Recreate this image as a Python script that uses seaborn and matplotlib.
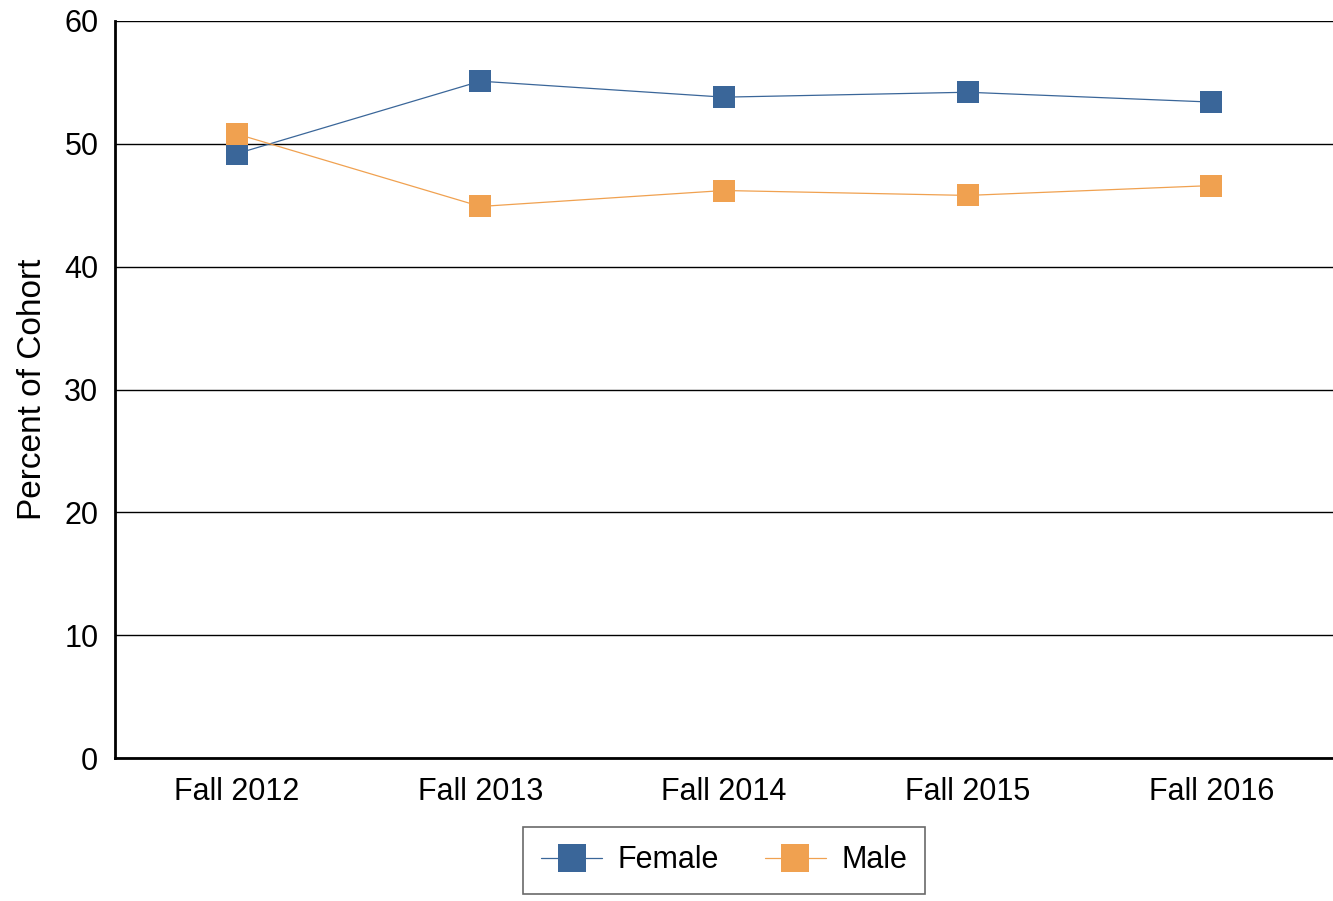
import pandas as pd
import matplotlib
matplotlib.use("Agg")
import matplotlib.pyplot as plt
import seaborn as sns

# Werte
terms = ["Fall 2012", "Fall 2013", "Fall 2014", "Fall 2015", "Fall 2016"]
female = [49.2, 55.1, 53.8, 54.2, 53.4]
male = [50.8, 44.9, 46.2, 45.8, 46.6]

df = pd.DataFrame({
    "Term": terms * 2,
    "Percent": female + male,
    "Gender": ["Female"] * len(terms) + ["Male"] * len(terms),
})

sns.set_theme(style="white")
plt.rcParams["font.family"] = ["Liberation Sans", "DejaVu Sans"]
plt.rcParams["text.color"] = "black"

fig, ax = plt.subplots(figsize=(13.33, 9.01), dpi=100)
fig.subplots_adjust(left=0.0863, right=1.0, top=0.9767, bottom=0.1587)

ax.yaxis.grid(True, color="black", linewidth=1.0)
ax.set_axisbelow(True)

sns.lineplot(
    data=df, x="Term", y="Percent", hue="Gender", ax=ax,
    palette={"Female": "#3A6699", "Male": "#F0A150"},
    marker="s", markersize=16.5, markeredgewidth=0, linewidth=0.9,
    sort=False,
)

ax.set_ylim(0, 60)
ax.set_xlim(-0.5, 4.5)
ax.set_yticks(range(0, 61, 10))
ax.set_xlabel("")
ax.set_ylabel("Percent of Cohort", fontsize=24, labelpad=12, color="black")
ax.tick_params(axis="both", length=0, labelsize=22, colors="black")
ax.tick_params(axis="y", pad=12)
ax.tick_params(axis="x", pad=14)

for side in ["top", "right"]:
    ax.spines[side].set_visible(False)
for side in ["left", "bottom"]:
    ax.spines[side].set_color("black")
    ax.spines[side].set_linewidth(2.0)

leg = ax.legend(
    loc="upper center", bbox_to_anchor=(0.5, -0.0936), ncol=2,
    fontsize=22, frameon=True, fancybox=False, edgecolor="#444444",
    handlelength=2.0, columnspacing=1.5, borderpad=0.6, handletextpad=0.5,
    borderaxespad=0.0, markerscale=1.25,
)
leg.get_frame().set_linewidth(1.2)
for t in leg.get_texts():
    t.set_color("black")

fig.savefig("out.png", dpi=100)
